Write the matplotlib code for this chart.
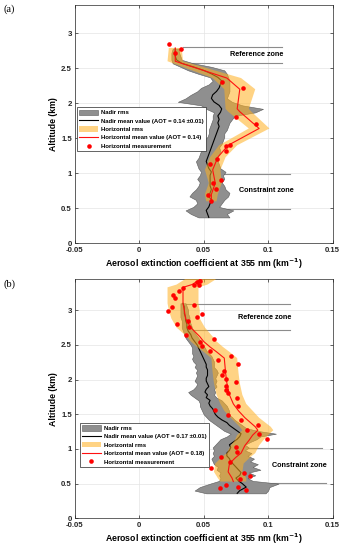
import matplotlib.pyplot as plt

plt.rcParams['font.family'] = ['Liberation Sans', 'DejaVu Sans']

# ---------------- panel (a) data ----------------
alt_nad_a = [0.37, 0.42, 0.47, 0.52, 0.57, 0.62, 0.67, 0.72, 0.77, 0.82, 0.87, 0.92, 0.97,
             1.02, 1.07, 1.12, 1.17, 1.22, 1.27, 1.32, 1.37, 1.42, 1.47, 1.52, 1.57, 1.62,
             1.67, 1.72, 1.77, 1.82, 1.87, 1.92, 1.97, 2.02, 2.07, 2.12, 2.17, 2.22, 2.27,
             2.32, 2.37, 2.42, 2.47, 2.52, 2.57, 2.62, 2.67, 2.72, 2.78]
nad_lo_a = [0.046, 0.040, 0.036, 0.042, 0.045, 0.044, 0.039, 0.041, 0.044, 0.046, 0.047, 0.045, 0.047,
            0.048, 0.046, 0.045, 0.044, 0.046, 0.047, 0.048, 0.048, 0.049, 0.050, 0.053, 0.054, 0.054,
            0.055, 0.056, 0.057, 0.057, 0.058, 0.052, 0.048, 0.030, 0.036, 0.040, 0.045, 0.048, 0.054,
            0.057, 0.055, 0.046, 0.038, 0.032, 0.026, 0.025, 0.025, 0.025, 0.026]
nad_mean_a = [0.054, 0.053, 0.052, 0.054, 0.055, 0.056, 0.054, 0.055, 0.056, 0.055, 0.055, 0.055, 0.055,
              0.056, 0.054, 0.053, 0.052, 0.053, 0.054, 0.055, 0.056, 0.057, 0.058, 0.059, 0.060, 0.061,
              0.062, 0.061, 0.062, 0.061, 0.063, 0.064, 0.062, 0.058, 0.056, 0.057, 0.060, 0.062, 0.063,
              0.064, 0.061, 0.056, 0.050, 0.042, 0.033, 0.029, 0.028, 0.028, 0.028]
nad_hi_a = [0.070, 0.068, 0.073, 0.062, 0.064, 0.066, 0.069, 0.070, 0.067, 0.066, 0.064, 0.066, 0.065,
            0.067, 0.063, 0.062, 0.061, 0.060, 0.062, 0.063, 0.062, 0.064, 0.065, 0.066, 0.066, 0.068,
            0.069, 0.070, 0.072, 0.074, 0.090, 0.096, 0.080, 0.072, 0.068, 0.069, 0.070, 0.070, 0.070,
            0.070, 0.069, 0.068, 0.066, 0.056, 0.042, 0.033, 0.032, 0.031, 0.031]

alt_hor_a = [0.60, 0.70, 0.86, 1.05, 1.23, 1.40, 1.64, 1.88, 1.92, 2.20, 2.36, 2.60, 2.79]
hor_mean_a = [0.056, 0.056, 0.059, 0.057, 0.061, 0.069, 0.093, 0.078, 0.076, 0.078, 0.068, 0.028, 0.028]
hor_rms_a = [0.004, 0.005, 0.005, 0.006, 0.006, 0.007, 0.008, 0.009, 0.009, 0.012, 0.011, 0.006, 0.005]

meas_x_a = [0.0231, 0.0321, 0.0277, 0.0641, 0.0806, 0.0902, 0.0747, 0.0672, 0.0703, 0.0677,
            0.0602, 0.0550, 0.0636, 0.0569, 0.0592, 0.0533, 0.0556]
meas_y_a = [2.84, 2.78, 2.72, 2.31, 2.22, 1.71, 1.80, 1.39, 1.40, 1.32,
            1.20, 1.13, 0.90, 0.86, 0.77, 0.69, 0.61]

# ---------------- panel (b) data ----------------
alt_nad_b = [0.36, 0.40, 0.45, 0.50, 0.54, 0.58, 0.62, 0.66, 0.70, 0.74, 0.78, 0.82, 0.86, 0.90,
             0.94, 0.98, 1.02, 1.06, 1.10, 1.14, 1.18, 1.22, 1.26, 1.30, 1.34, 1.38, 1.42, 1.46,
             1.50, 1.54, 1.58, 1.62, 1.66, 1.70, 1.74, 1.78, 1.82, 1.86, 1.90, 1.94, 1.98, 2.02,
             2.06, 2.10, 2.14, 2.18, 2.22, 2.26, 2.30, 2.34, 2.38, 2.42, 2.46, 2.50, 2.55, 2.60,
             2.65, 2.70, 2.75, 2.80, 2.85, 2.90, 2.95, 3.00, 3.05, 3.10]
nad_lo_b = [0.052, 0.043, 0.047, 0.055, 0.062, 0.063, 0.062, 0.063, 0.060, 0.061, 0.058, 0.057, 0.056, 0.058,
            0.057, 0.058, 0.057, 0.059, 0.061, 0.063, 0.068, 0.071, 0.066, 0.063, 0.060, 0.057, 0.054, 0.052,
            0.050, 0.049, 0.048, 0.047, 0.047, 0.046, 0.043, 0.040, 0.038, 0.042, 0.044, 0.045, 0.043, 0.044,
            0.045, 0.044, 0.045, 0.043, 0.044, 0.042, 0.041, 0.042, 0.041, 0.041, 0.041, 0.040, 0.038, 0.036,
            0.035, 0.034, 0.033, 0.033, 0.033, 0.032, 0.032, 0.032, 0.032, 0.032]
nad_mean_b = [0.076, 0.078, 0.083, 0.080, 0.077, 0.075, 0.078, 0.079, 0.077, 0.075, 0.073, 0.071, 0.070, 0.068,
              0.068, 0.070, 0.071, 0.070, 0.073, 0.076, 0.078, 0.079, 0.076, 0.073, 0.070, 0.068, 0.064, 0.061,
              0.059, 0.058, 0.057, 0.055, 0.054, 0.055, 0.052, 0.053, 0.051, 0.052, 0.054, 0.053, 0.052, 0.052,
              0.053, 0.053, 0.053, 0.052, 0.052, 0.051, 0.050, 0.049, 0.048, 0.047, 0.046, 0.045, 0.043, 0.041,
              0.040, 0.038, 0.037, 0.037, 0.036, 0.036, 0.035, 0.035, 0.035, 0.034]
nad_hi_b = [0.098, 0.100, 0.101, 0.108, 0.088, 0.084, 0.090, 0.085, 0.094, 0.088, 0.092, 0.086, 0.089, 0.084,
            0.087, 0.082, 0.085, 0.082, 0.086, 0.091, 0.094, 0.106, 0.092, 0.083, 0.080, 0.077, 0.074, 0.072,
            0.069, 0.070, 0.069, 0.068, 0.066, 0.064, 0.060, 0.058, 0.059, 0.058, 0.060, 0.059, 0.060, 0.059,
            0.060, 0.061, 0.060, 0.058, 0.058, 0.058, 0.057, 0.056, 0.054, 0.052, 0.051, 0.049, 0.048, 0.046,
            0.044, 0.042, 0.041, 0.040, 0.039, 0.039, 0.038, 0.038, 0.037, 0.036]

alt_hor_b = [0.53, 0.58, 0.67, 0.79, 0.88, 0.94, 1.05, 1.12, 1.20, 1.27, 1.32, 1.45, 1.55, 1.65,
             1.78, 1.95, 2.10, 2.31, 2.40, 2.47, 2.55, 2.62, 2.75, 2.88, 3.00, 3.10, 3.20, 3.33,
             3.37, 3.50]
hor_mean_b = [0.073, 0.072, 0.069, 0.070, 0.075, 0.079, 0.082, 0.085, 0.088, 0.092, 0.090, 0.082, 0.077, 0.073,
              0.070, 0.068, 0.067, 0.066, 0.060, 0.055, 0.050, 0.047, 0.040, 0.036, 0.035, 0.034, 0.034, 0.034,
              0.041, 0.052]
hor_rms_b = [0.010, 0.011, 0.011, 0.011, 0.011, 0.011, 0.011, 0.011, 0.012, 0.012, 0.012, 0.011, 0.011, 0.010,
             0.010, 0.010, 0.010, 0.010, 0.010, 0.010, 0.010, 0.010, 0.011, 0.011, 0.012, 0.012, 0.012, 0.012,
             0.012, 0.012]

meas_x_b = [0.0220, 0.0256, 0.0264, 0.0277, 0.0308, 0.0341, 0.0426, 0.0445, 0.0463, 0.0470,
            0.0426, 0.0445, 0.0488, 0.0290, 0.0380, 0.0390, 0.0367, 0.0580, 0.0473, 0.0488,
            0.0550, 0.0710, 0.0610, 0.0765, 0.0657, 0.0646, 0.0677, 0.0750, 0.0677, 0.0677,
            0.0685, 0.0760, 0.0767, 0.0587, 0.0685, 0.0786, 0.0925, 0.0835, 0.0928, 0.0990,
            0.0750, 0.0760, 0.0633, 0.0705, 0.0560, 0.0810, 0.0860, 0.0780, 0.0677, 0.0625,
            0.0770, 0.0825]
meas_y_b = [2.99, 3.04, 3.22, 3.18, 3.28, 3.32, 3.36, 3.40, 3.37, 3.42,
            3.08, 2.90, 2.94, 2.80, 2.84, 2.76, 2.64, 2.58, 2.54, 2.49,
            2.41, 2.34, 2.28, 2.23, 2.13, 2.06, 2.01, 1.96, 1.91, 1.85,
            1.80, 1.74, 1.62, 1.56, 1.49, 1.42, 1.35, 1.28, 1.21, 1.15,
            1.03, 0.95, 0.88, 0.81, 0.72, 0.66, 0.61, 0.57, 0.48, 0.43,
            0.45, 0.41]

legend_a = ['Nadir rms', 'Nadir mean value (AOT = 0.14 \u00b10.01)', 'Horizontal rms',
            'Horizontal mean value (AOT = 0.14)', 'Horizontal measurement']
legend_b = ['Nadir rms', 'Nadir mean value (AOT = 0.17 \u00b10.01)', 'Horizontal rms',
            'Horizontal mean value (AOT = 0.18)', 'Horizontal measurement']

fig = plt.figure(figsize=(3.44, 5.5), dpi=100)


def panel(ax, alt_n, lo, mean, hi, alt_h, hmean, hrms, mx, my, labels, ytop,
          ref_lines, ref_txt, con_lines, con_txt, leg_pos):
    # zone marker lines
    for (y, x0, x1) in ref_lines + con_lines:
        ax.plot([x0, x1], [y, y], color='#8c8c8c', lw=0.8, zorder=1)
    g = ax.fill_betweenx(alt_n, lo, hi, facecolor='#8f8f8f', edgecolor='#5a5a5a', lw=0.4, zorder=2)
    l1, = ax.plot(mean, alt_n, color='k', lw=0.8, zorder=3)
    hlo = [m - r for m, r in zip(hmean, hrms)]
    hhi = [m + r for m, r in zip(hmean, hrms)]
    o = ax.fill_betweenx(alt_h, hlo, hhi, facecolor='#FFB020', alpha=0.55, lw=0, zorder=4)
    l2, = ax.plot(hmean, alt_h, color='#FF1010', lw=0.8, zorder=5)
    d, = ax.plot(mx, my, 'o', color='#FF0000', ms=3.3, mec='none', zorder=6)
    ax.text(ref_txt[0], ref_txt[1], 'Reference zone', fontsize=5.2, fontweight='bold',
            ha='center', va='center', zorder=7)
    ax.text(con_txt[0], con_txt[1], 'Constraint zone', fontsize=5.2, fontweight='bold',
            ha='center', va='center', zorder=7)

    ax.set_xlim(-0.05, 0.15)
    ax.set_ylim(0, ytop)
    ax.set_xticks([-0.05, 0, 0.05, 0.1, 0.15])
    ax.set_xticklabels(['-0.05', '0', '0.05', '0.1', '0.15'])
    ax.set_yticks([0, 0.5, 1, 1.5, 2, 2.5, 3])
    ax.set_yticklabels(['0', '0.5', '1', '1.5', '2', '2.5', '3'])
    ax.grid(True, color='#e4e4e4', lw=0.5)
    ax.set_axisbelow(True)
    ax.tick_params(direction='in', length=2.5, width=0.5, labelsize=5.6,
                   top=True, right=True, colors='#262626')
    ax.tick_params(axis='x', pad=3.0)
    ax.tick_params(axis='y', pad=2.0)
    for t in ax.get_xticklabels() + ax.get_yticklabels():
        t.set_fontweight('bold')
    for s in ax.spines.values():
        s.set_color('#262626')
        s.set_linewidth(0.5)
    ax.set_xlabel('Aerosol extinction coefficient at 355 nm (km$^{\\mathbf{-1}}$)',
                  fontsize=6.3, fontweight='bold', labelpad=1.5)
    ax.set_ylabel('Altitude (km)', fontsize=6.3, fontweight='bold', labelpad=2)
    leg = ax.legend([g, l1, o, l2, d], labels, loc='upper left', bbox_to_anchor=leg_pos,
                    prop={'size': 4.3, 'weight': 'bold'}, handlelength=3.2, handleheight=1.0,
                    labelspacing=0.45, borderpad=0.35, handletextpad=0.5, borderaxespad=0,
                    fancybox=False, framealpha=1, edgecolor='#262626')
    leg.get_frame().set_linewidth(0.5)
    leg.set_zorder(10)


ax_a = fig.add_axes([0.217, 0.5576, 0.750, 0.4342])
panel(ax_a, alt_nad_a, nad_lo_a, nad_mean_a, nad_hi_a, alt_hor_a, hor_mean_a, hor_rms_a,
      meas_x_a, meas_y_a, legend_a, 3.41,
      [(2.81, 0.034, 0.111), (2.57, 0.034, 0.111)], (0.091, 2.69),
      [(0.995, 0.056, 0.117), (0.495, 0.056, 0.117)], (0.099, 0.75),
      (0.009, 0.569))

ax_b = fig.add_axes([0.217, 0.0576, 0.750, 0.4351])
panel(ax_b, alt_nad_b, nad_lo_b, nad_mean_b, nad_hi_b, alt_hor_b, hor_mean_b, hor_rms_b,
      meas_x_b, meas_y_b, legend_b, 3.45,
      [(3.09, 0.034, 0.117), (2.71, 0.039, 0.117)], (0.097, 2.90),
      [(1.02, 0.070, 0.142), (0.51, 0.078, 0.145)], (0.124, 0.76),
      (0.02, 0.398))

fig.text(0.010, 0.983, '(a)', fontsize=7.5, family='Liberation Serif', va='center')
fig.text(0.010, 0.483, '(b)', fontsize=7.5, family='Liberation Serif', va='center')

fig.savefig('out.png', dpi=100)
